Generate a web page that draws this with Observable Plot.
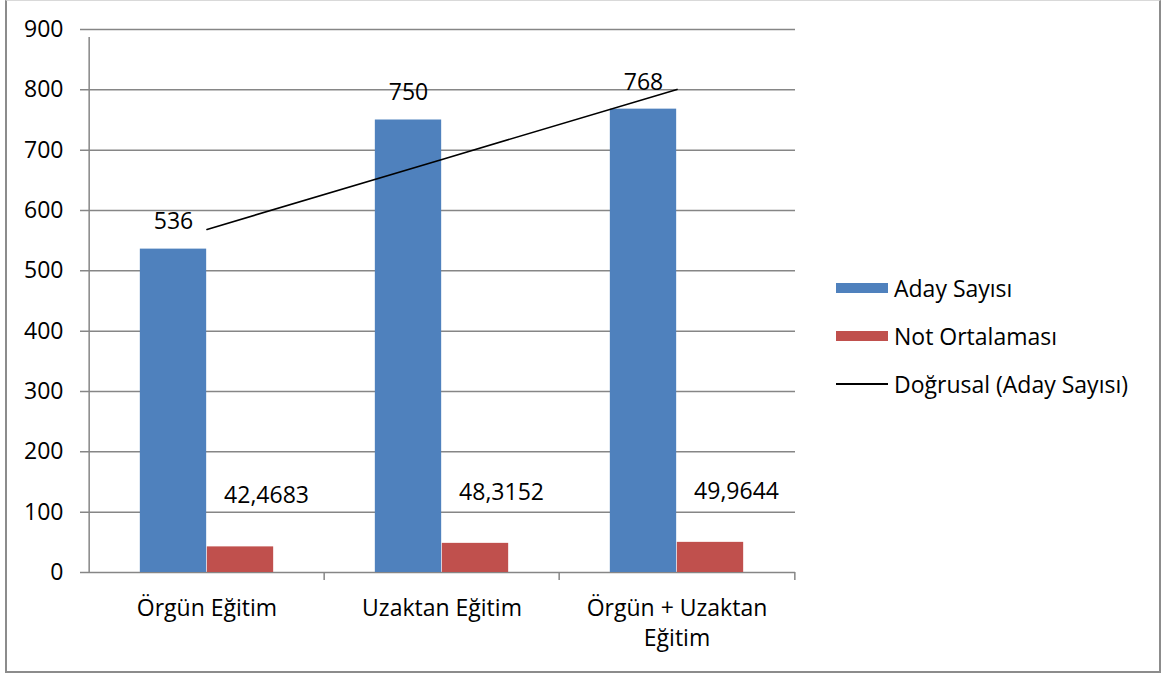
<!DOCTYPE html>
<html>
<head>
<meta charset="utf-8">
<script src="https://cdn.jsdelivr.net/npm/d3@7"></script>
<script src="https://cdn.jsdelivr.net/npm/@observablehq/plot@0.6"></script>
<style>
  html, body { margin: 0; padding: 0; background: #fff; }
  #wrap { position: relative; width: 1167px; height: 677px; font-family: "Open Sans", sans-serif; }
  #border { position: absolute; left: 5px; top: 0px; width: 1152px; height: 670px; border: 2px solid #8c8c8c; border-top: 1px solid #d9d9d9; box-sizing: content-box; pointer-events: none; }
  #chart { position: absolute; left: 0; top: 0; }
  #chart svg text { font-size: 23px !important; font-family: "Open Sans", sans-serif !important; fill: #000; font-variant: normal !important; }
  #legend { position: absolute; left: 836px; top: 264px; font-size: 23px; color: #000; }
  .item { display: flex; align-items: center; height: 48px; }
  .sw { width: 52px; height: 10px; margin-right: 6px; }
  .ln { width: 52px; height: 0; border-top: 2px solid #000; margin-right: 6px; }
</style>
</head>
<body>
<div id="wrap">
  <div id="chart"></div>
  <div id="border"></div>
  <div id="legend"></div>
</div>
<script>
// ---- data ----
const categories = ["Örgün Eğitim", "Uzaktan Eğitim", "Örgün + Uzaktan Eğitim"];
const categoryLabels = ["Örgün Eğitim", "Uzaktan Eğitim", "Örgün + Uzaktan\nEğitim"];
const adaySayisi = [536, 750, 768];
const notOrtalamasi = [42.4683, 48.3152, 49.9644];
const notLabels = ["42,4683", "48,3152", "49,9644"];
const seriesNames = ["Aday Sayısı", "Not Ortalaması", "Doğrusal (Aday Sayısı)"];
const yTicks = [0, 100, 200, 300, 400, 500, 600, 700, 800, 900];

// linear trendline (least squares) of Aday Sayısı, as Excel draws it
const xs = adaySayisi.map((_, i) => i + 1);
const mx = d3.mean(xs), my = d3.mean(adaySayisi);
const slope = d3.sum(xs.map((x, i) => (x - mx) * (adaySayisi[i] - my))) / d3.sum(xs.map(x => (x - mx) ** 2));
const trend = xs.map(x => my + slope * (x - mx));

// ---- layout ----
const W = 1167, H = 677, ML = 88, MR = 372, MT = 29, MB = 105;
const bw = (W - ML - MR) / categories.length;
const barW = 67;
const gap = (bw - 2 * barW) / 2;
const BLUE = "#4F81BD", RED = "#C0504D", GRID = "#868686";
const FONT = "Open Sans";

const rows = categories.map((c, i) => ({c, label: categoryLabels[i], aday: adaySayisi[i], not: notOrtalamasi[i], notLabel: notLabels[i], trend: trend[i]}));

const plot = Plot.plot({
  width: W, height: H,
  marginLeft: ML, marginRight: MR, marginTop: MT, marginBottom: MB,
  style: {fontFamily: FONT, fontSize: "23px", color: "#000", background: "transparent"},
  x: {domain: categories, padding: 0, axis: null},
  y: {domain: [0, 900], ticks: 9, tickSize: 0, tickPadding: 25, label: null, tickFormat: d => String(d)},
  marks: [
    Plot.ruleY(yTicks, {y: d => d, stroke: GRID, strokeWidth: 1.5, insetLeft: -8}),
    Plot.barY(rows, {x: "c", y: "aday", fill: BLUE, insetLeft: gap, insetRight: gap + barW}),
    Plot.barY(rows, {x: "c", y: "not", fill: RED, insetLeft: gap + barW, insetRight: gap}),
    // y axis line + category separator ticks
    Plot.ruleX([categories[0]], {x: d => d, dx: -bw / 2, y1: 0, y2: 900, stroke: GRID, strokeWidth: 1.5, insetBottom: -8}),
    Plot.ruleX(categories.slice(1), {x: d => d, dx: -bw / 2, y1: 0, y2: 0, stroke: GRID, strokeWidth: 1.5, insetBottom: -8}),
    Plot.ruleX([categories[categories.length - 1]], {x: d => d, dx: bw / 2, y1: 0, y2: 0, stroke: GRID, strokeWidth: 1.5, insetBottom: -8}),
    Plot.line(rows, {x: "c", y: "trend", stroke: "#000", strokeWidth: 1.6}),
    Plot.text(rows, {x: "c", y: "aday", text: d => String(d.aday), dx: -barW / 2, dy: -27, fontSize: 23, fill: "#000"}),
    Plot.text(rows, {x: "c", y: "not", text: "notLabel", dx: barW / 2 + 26, dy: -51, fontSize: 23, fill: "#000"}),
    Plot.text(rows, {x: "c", y: () => 0, text: "label", dy: 22, lineAnchor: "top", lineHeight: 1.3, fontSize: 23, fill: "#000"})
  ]
});
document.getElementById("chart").appendChild(plot);

// ---- legend ----
const legend = document.getElementById("legend");
const kinds = [{type: "sw", color: BLUE}, {type: "sw", color: RED}, {type: "ln"}];
seriesNames.forEach((name, i) => {
  const item = document.createElement("div");
  item.className = "item";
  const s = document.createElement("div");
  s.className = kinds[i].type;
  if (kinds[i].color) s.style.background = kinds[i].color;
  const t = document.createElement("span");
  t.textContent = name;
  item.appendChild(s); item.appendChild(t);
  legend.appendChild(item);
});
</script>
</body>
</html>
